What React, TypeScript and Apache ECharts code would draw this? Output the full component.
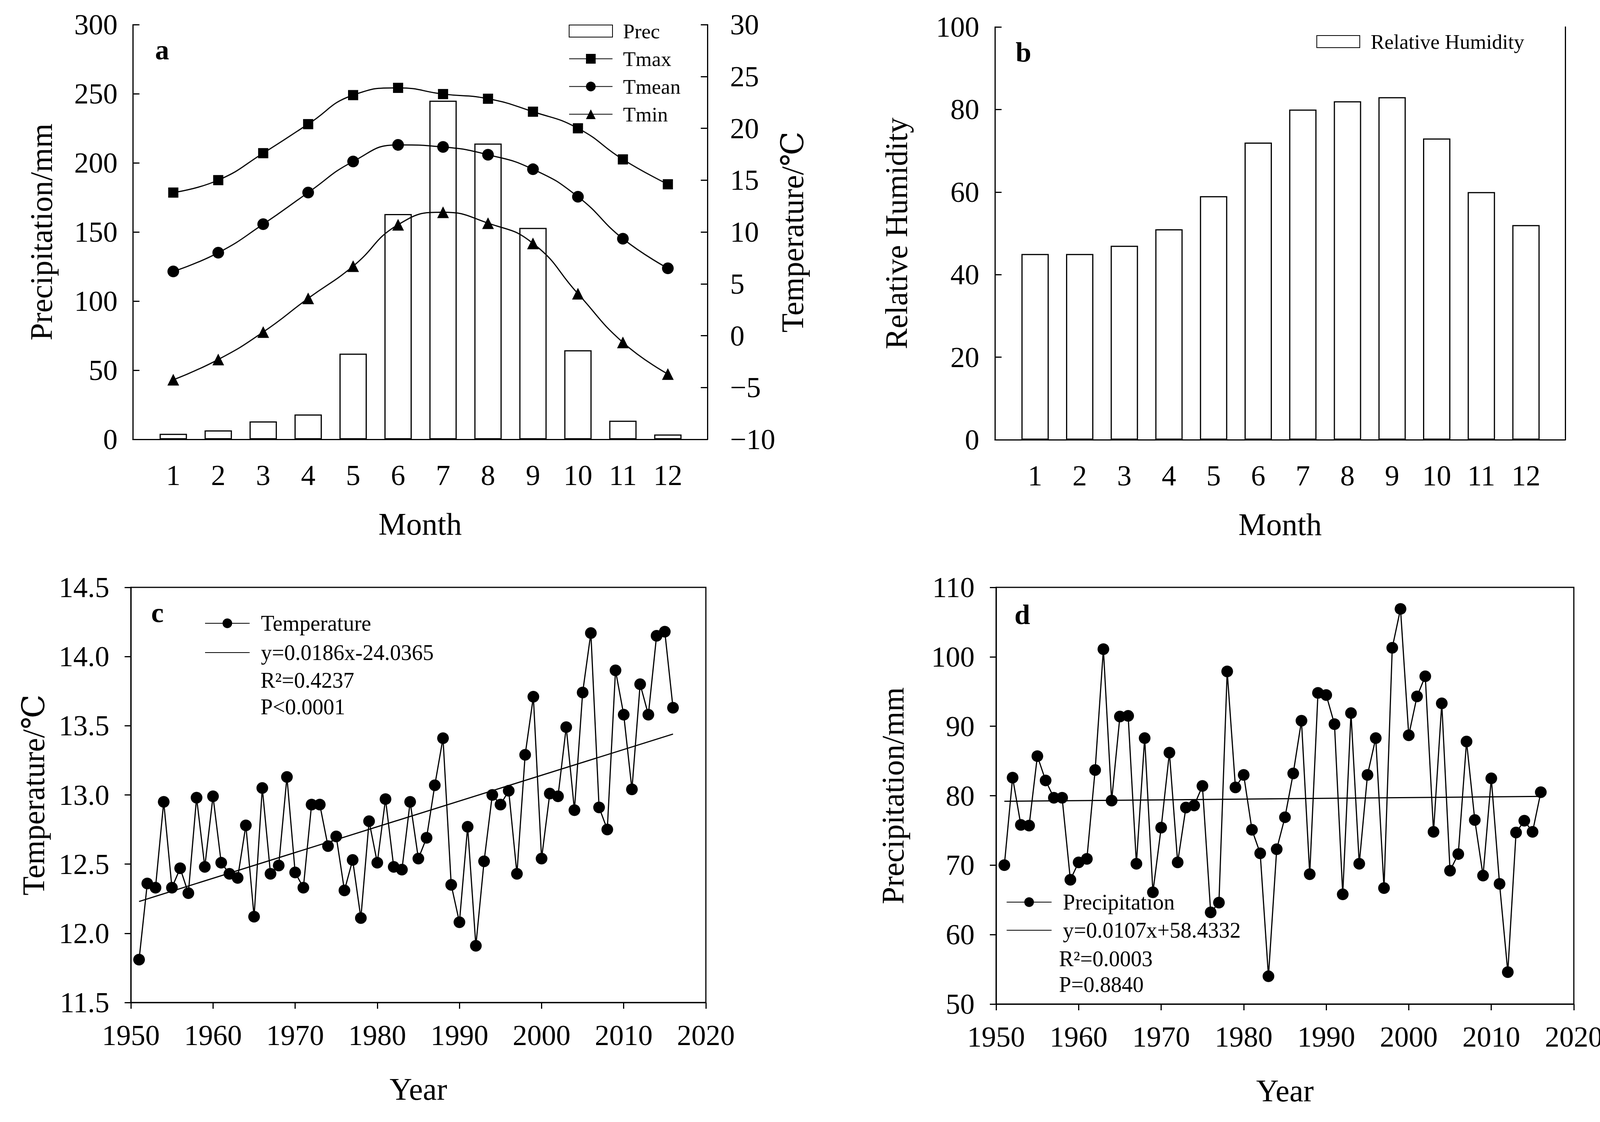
import React, { useEffect, useRef } from 'react';
import * as echarts from 'echarts';

// ---------- data ----------
const months = [1, 2, 3, 4, 5, 6, 7, 8, 9, 10, 11, 12];
const precMonthly = [4, 6.5, 13, 18, 62, 163, 245, 214, 153, 64.5, 13.5, 3.5];
const tmax = [13.8, 15.0, 17.6, 20.4, 23.2, 23.9, 23.3, 22.85, 21.6, 20.0, 17.0, 14.6];
const tmean = [6.2, 8.0, 10.75, 13.8, 16.8, 18.4, 18.2, 17.45, 16.05, 13.4, 9.35, 6.5];
const tmin = [-4.25, -2.3, 0.35, 3.6, 6.7, 10.7, 11.9, 10.85, 8.9, 4.05, -0.65, -3.7];
const humidity = [45, 45, 47, 51, 59, 72, 80, 82, 83, 73, 60, 52];

const years = [
  1951, 1952, 1953, 1954, 1955, 1956, 1957, 1958, 1959, 1960,
  1961, 1962, 1963, 1964, 1965, 1966, 1967, 1968, 1969, 1970,
  1971, 1972, 1973, 1974, 1975, 1976, 1977, 1978, 1979, 1980,
  1981, 1982, 1983, 1984, 1985, 1986, 1987, 1988, 1989, 1990,
  1991, 1992, 1993, 1994, 1995, 1996, 1997, 1998, 1999, 2000,
  2001, 2002, 2003, 2004, 2005, 2006, 2007, 2008, 2009, 2010,
  2011, 2012, 2013, 2014, 2015, 2016,
];
const annualTemp = [
  11.81, 12.36, 12.33, 12.95, 12.33, 12.47, 12.29, 12.98, 12.48, 12.99,
  12.51, 12.43, 12.40, 12.78, 12.12, 13.05, 12.43, 12.49, 13.13, 12.44,
  12.33, 12.93, 12.93, 12.63, 12.70, 12.31, 12.53, 12.11, 12.81, 12.51,
  12.97, 12.48, 12.46, 12.95, 12.54, 12.69, 13.07, 13.41, 12.35, 12.08,
  12.77, 11.91, 12.52, 13.00, 12.93, 13.03, 12.43, 13.29, 13.71, 12.54,
  13.01, 12.99, 13.49, 12.89, 13.74, 14.17, 12.91, 12.75, 13.90, 13.58,
  13.04, 13.80, 13.58, 14.15, 14.18, 13.63,
];
const annualPrec = [
  70.0, 82.6, 75.8, 75.7, 85.7, 82.2, 79.7, 79.7, 67.9, 70.4,
  70.9, 83.7, 101.1, 79.3, 91.4, 91.5, 70.2, 88.3, 66.1, 75.4,
  86.2, 70.4, 78.3, 78.6, 81.4, 63.2, 64.6, 97.9, 81.2, 83.0,
  75.1, 71.7, 54.0, 72.3, 76.9, 83.2, 90.8, 68.7, 94.8, 94.5,
  90.3, 65.8, 91.9, 70.2, 83.0, 88.3, 66.7, 101.3, 106.9, 88.7,
  94.3, 97.2, 74.8, 93.3, 69.2, 71.6, 87.8, 76.5, 68.5, 82.5,
  67.3, 54.6, 74.7, 76.4, 74.8, 80.5,
];
const trendTempEnds = [[1951, 12.23], [2016, 13.44]];
const trendPrecEnds = [[1951, 79.2], [2016, 79.9]];

const tempTrendName = 'y=0.0186x-24.0365';
const precTrendName = 'y=0.0107x+58.4332';
const tempStats = ['R²=0.4237', 'P<0.0001'];
const precStats = ['R²=0.0003', 'P=0.8840'];

// ---------- styles ----------
const FONT = '"Liberation Serif", "Times New Roman", "DejaVu Serif", serif';
const BLACK = '#000';
const TICK_FS = 74;
const NAME_FS = 80;
const LEG_FS = 53;

const axisLine = { show: true, onZero: false, lineStyle: { color: BLACK, width: 3 } };
const noSplit = { show: false };
const tickLabel = (margin: number, extra: any = {}) => ({
  color: BLACK, fontFamily: FONT, fontSize: TICK_FS, margin, ...extra,
});
const nameStyle = { color: BLACK, fontFamily: FONT, fontSize: NAME_FS };

const pairs = (xs: number[], ys: number[]) => xs.map((x, i) => [x, ys[i]]);

const panelLetter = (t: string, x: number, y: number) => ({
  type: 'text', x, y,
  style: { text: t, fill: BLACK, fontFamily: FONT, fontSize: 72, fontWeight: 'bold', verticalAlign: 'middle', align: 'left' },
});
const statText = (t: string, x: number, y: number) => ({
  type: 'text', x, y,
  style: { text: t, fill: BLACK, fontFamily: FONT, fontSize: 56, verticalAlign: 'middle', align: 'left' },
});

function buildOption() {
  const monthAxis = (gridIndex: number) => ({
    type: 'value', gridIndex, min: 0.1, max: 12.88,
    axisLine, axisTick: { show: false }, splitLine: noSplit,
    axisLabel: tickLabel(55, { customValues: months }),
    name: 'Month', nameLocation: 'middle', nameGap: 177, nameTextStyle: nameStyle,
  });
  const yearAxis = (gridIndex: number) => ({
    type: 'value', gridIndex, min: 1950, max: 2020, interval: 10,
    axisLine, splitLine: noSplit,
    axisTick: { show: true, inside: false, length: 16, lineStyle: { color: BLACK, width: 3 } },
    axisLabel: tickLabel(47, { formatter: (v: number) => String(v) }),
    name: 'Year', nameLocation: 'middle', nameGap: 182, nameTextStyle: nameStyle,
  });
  const inTick = { show: true, inside: true, length: 17, lineStyle: { color: BLACK, width: 3 } };
  const outTick = { show: true, inside: false, length: 16, lineStyle: { color: BLACK, width: 3 } };

  return {
    animation: false,
    backgroundColor: '#fff',
    textStyle: { fontFamily: FONT },
    grid: [
      { left: 340, top: 63, width: 1471, height: 1062, outerBoundsMode: 'none' },
      { left: 2547, top: 69, width: 1460, height: 1057, outerBoundsMode: 'none' },
      { left: 335, top: 1504, width: 1472, height: 1063, show: true, borderColor: BLACK, borderWidth: 3, backgroundColor: 'transparent', outerBoundsMode: 'none' },
      { left: 2550, top: 1504, width: 1479, height: 1067, show: true, borderColor: BLACK, borderWidth: 3, backgroundColor: 'transparent', outerBoundsMode: 'none' },
    ],
    xAxis: [monthAxis(0), monthAxis(1), yearAxis(2), yearAxis(3)],
    yAxis: [
      {
        type: 'value', gridIndex: 0, position: 'left', min: 0, max: 300, interval: 50,
        axisLine, axisTick: inTick, splitLine: noSplit, axisLabel: tickLabel(39),
        name: 'Precipitation/mm', nameLocation: 'middle', nameGap: 194, nameRotate: 90, nameTextStyle: nameStyle,
      },
      {
        type: 'value', gridIndex: 0, position: 'right', min: -10, max: 30, interval: 5,
        axisLine, axisTick: inTick, splitLine: noSplit,
        axisLabel: tickLabel(58, { formatter: (v: number) => (v < 0 ? '\u2212' + Math.abs(v) : String(v)) }),
        name: 'Temperature/\u2103', nameLocation: 'middle', nameGap: 178, nameRotate: 90, nameTextStyle: nameStyle,
      },
      {
        type: 'value', gridIndex: 1, position: 'left', min: 0, max: 100, interval: 20,
        axisLine, axisTick: inTick, splitLine: noSplit, axisLabel: tickLabel(40),
        name: 'Relative Humidity', nameLocation: 'middle', nameGap: 212, nameRotate: 90, nameTextStyle: nameStyle,
      },
      {
        type: 'value', gridIndex: 1, position: 'right', min: 0, max: 100,
        axisLine, axisTick: { show: false }, splitLine: noSplit, axisLabel: { show: false },
      },
      {
        type: 'value', gridIndex: 2, position: 'left', min: 11.5, max: 14.5, interval: 0.5,
        axisLine, axisTick: outTick, splitLine: noSplit,
        axisLabel: tickLabel(55, { formatter: (v: number) => v.toFixed(1) }),
        name: 'Temperature/\u2103', nameLocation: 'middle', nameGap: 209, nameRotate: 90, nameTextStyle: nameStyle,
      },
      {
        type: 'value', gridIndex: 3, position: 'left', min: 50, max: 110, interval: 10,
        axisLine, axisTick: outTick, splitLine: noSplit, axisLabel: tickLabel(55),
        name: 'Precipitation/mm', nameLocation: 'middle', nameGap: 224, nameRotate: 90, nameTextStyle: nameStyle,
      },
    ],
    legend: [
      {
        data: [{ name: 'Prec', icon: 'rect' }, 'Tmax', 'Tmean', 'Tmin'],
        orient: 'vertical', left: 1451, top: 48, itemWidth: 111, itemHeight: 31, itemGap: 18,
        textStyle: { color: BLACK, fontFamily: FONT, fontSize: LEG_FS, padding: [0, 0, 0, 22] },
        selectedMode: false,
      },
      {
        data: [{ name: 'Relative Humidity', icon: 'rect' }],
        orient: 'vertical', left: 3365, top: 75, itemWidth: 110, itemHeight: 31,
        textStyle: { color: BLACK, fontFamily: FONT, fontSize: LEG_FS, padding: [0, 0, 0, 23] },
        selectedMode: false,
      },
      {
        data: ['Temperature', { name: tempTrendName, itemStyle: { opacity: 0 } }],
        orient: 'vertical', left: 519, top: 1563, itemWidth: 114, itemHeight: 31, itemGap: 19,
        textStyle: { color: BLACK, fontFamily: FONT, fontSize: 56, padding: [0, 0, 0, 24] },
        selectedMode: false,
      },
      {
        data: ['Precipitation', { name: precTrendName, itemStyle: { opacity: 0 } }],
        orient: 'vertical', left: 2571, top: 2277, itemWidth: 115, itemHeight: 31, itemGap: 16,
        textStyle: { color: BLACK, fontFamily: FONT, fontSize: 56, padding: [0, 0, 0, 24] },
        selectedMode: false,
      },
    ],
    series: [
      {
        name: 'Prec', type: 'bar', xAxisIndex: 0, yAxisIndex: 0, barWidth: 70,
        data: pairs(months, precMonthly),
        itemStyle: { color: '#fff', borderColor: BLACK, borderWidth: 3 },
      },
      {
        name: 'Tmax', type: 'line', xAxisIndex: 0, yAxisIndex: 1, smooth: true,
        data: pairs(months, tmax), symbol: 'rect', symbolSize: 26,
        itemStyle: { color: BLACK }, lineStyle: { color: BLACK, width: 3 },
      },
      {
        name: 'Tmean', type: 'line', xAxisIndex: 0, yAxisIndex: 1, smooth: true,
        data: pairs(months, tmean), symbol: 'circle', symbolSize: 30,
        itemStyle: { color: BLACK }, lineStyle: { color: BLACK, width: 3 },
      },
      {
        name: 'Tmin', type: 'line', xAxisIndex: 0, yAxisIndex: 1, smooth: true,
        data: pairs(months, tmin), symbol: 'triangle', symbolSize: 30,
        itemStyle: { color: BLACK }, lineStyle: { color: BLACK, width: 3 },
      },
      {
        name: 'Relative Humidity', type: 'bar', xAxisIndex: 1, yAxisIndex: 2, barWidth: 70,
        data: pairs(months, humidity),
        itemStyle: { color: '#fff', borderColor: BLACK, borderWidth: 3 },
      },
      {
        name: 'Temperature', type: 'line', xAxisIndex: 2, yAxisIndex: 4,
        data: pairs(years, annualTemp), symbol: 'circle', symbolSize: 30,
        itemStyle: { color: BLACK }, lineStyle: { color: BLACK, width: 3 },
      },
      {
        name: tempTrendName, type: 'line', xAxisIndex: 2, yAxisIndex: 4,
        data: trendTempEnds, symbol: 'none', z: 1,
        itemStyle: { color: BLACK }, lineStyle: { color: BLACK, width: 3 },
      },
      {
        name: 'Precipitation', type: 'line', xAxisIndex: 3, yAxisIndex: 5,
        data: pairs(years, annualPrec), symbol: 'circle', symbolSize: 30,
        itemStyle: { color: BLACK }, lineStyle: { color: BLACK, width: 3 },
      },
      {
        name: precTrendName, type: 'line', xAxisIndex: 3, yAxisIndex: 5,
        data: trendPrecEnds, symbol: 'none', z: 1,
        itemStyle: { color: BLACK }, lineStyle: { color: BLACK, width: 3 },
      },
    ],
    graphic: [
      panelLetter('a', 397, 128),
      panelLetter('b', 2600, 134),
      panelLetter('c', 387, 1569),
      panelLetter('d', 2597, 1574),
      statText(tempStats[0], 667, 1742),
      statText(tempStats[1], 667, 1810),
      statText(precStats[0], 2711, 2455),
      statText(precStats[1], 2711, 2521),
    ],
  };
}

export default function App() {
  const ref = useRef<HTMLDivElement>(null);
  useEffect(() => {
    if (!ref.current) return;
    const chart = echarts.init(ref.current, undefined, { renderer: 'svg' });
    chart.setOption(buildOption() as any);
    return () => chart.dispose();
  }, []);
  return (
    <div
      ref={ref}
      style={{ position: 'absolute', left: 0, top: 0, width: 4131, height: 2873, background: '#fff' }}
    />
  );
}
